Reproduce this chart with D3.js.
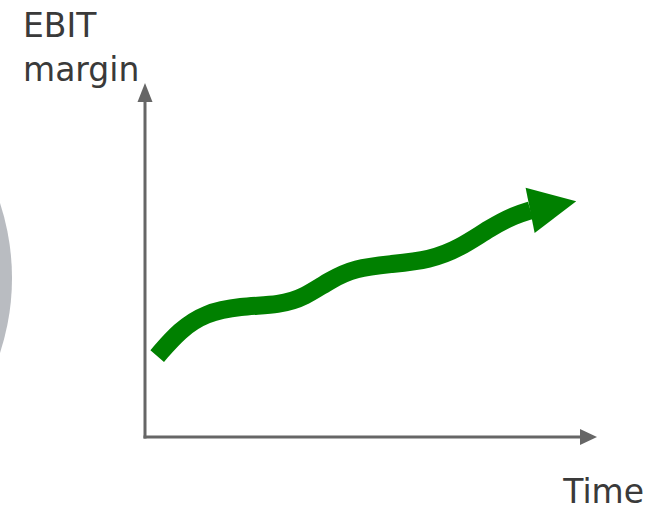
<!DOCTYPE html>
<html>
<head>
<meta charset="utf-8">
<script src="https://cdn.jsdelivr.net/npm/d3@7"></script>
<style>
  body { margin: 0; background: #fff; }
  text { font-family: "DejaVu Sans", Verdana, sans-serif; fill: #3a3a3a; }
</style>
</head>
<body>
<div id="chart"></div>
<script>
// conceptual trend, in axis units (0-100 on both)
const timeValues   = [2.7, 7.7, 13.3, 21.0, 29.9, 35.4, 40.9, 46.5, 54.2, 63.1, 69.7, 76.3, 81.9, 85.3];
const marginValues = [23.0, 30.4, 35.2, 37.2, 37.5, 39.8, 44.6, 48.0, 49.1, 50.3, 53.7, 59.4, 63.1, 64.4];
const arrowTip = [95.4, 67.0];
const yLabel = ["EBIT", "margin"];
const xLabel = "Time";

let width = 658,
    height = 511;

var svg = d3.select("#chart")
    .append("svg")
    .attr("width", width)
    .attr("height", height);

let x = d3.scaleLinear().domain([0, 100]).range([145, 597]);
let y = d3.scaleLinear().domain([0, 100]).range([437, 85]);

// grey shape peeking in from the left edge
svg.append("circle")
    .attr("cx", -228)
    .attr("cy", 278)
    .attr("r", 240)
    .style("fill", "#b9bcc1");

// axes
const axisColor = "#666666";
svg.append("line")
    .attr("x1", x(0)).attr("y1", y(0) + 1.5)
    .attr("x2", x(0)).attr("y2", y(100) + 14)
    .style("stroke", axisColor)
    .style("stroke-width", 3);
svg.append("path")
    .attr("d", d3.line()([[x(0) - 7.5, y(100) + 17], [x(0), y(100) - 2], [x(0) + 7.5, y(100) + 17]]) + "Z")
    .style("fill", axisColor);

svg.append("line")
    .attr("x1", x(0) - 1.5).attr("y1", y(0))
    .attr("x2", x(100) - 14).attr("y2", y(0))
    .style("stroke", axisColor)
    .style("stroke-width", 3);
svg.append("path")
    .attr("d", d3.line()([[x(100) - 17, y(0) - 8], [x(100), y(0)], [x(100) - 17, y(0) + 8]]) + "Z")
    .style("fill", axisColor);

// the trend line
const pts = timeValues.map((t, i) => [x(t), y(marginValues[i])]);

svg.append("path")
    .datum(pts)
    .attr("d", d3.line().curve(d3.curveBasis))
    .style("fill", "none")
    .style("stroke", "#008000")
    .style("stroke-width", 18)
    .style("stroke-linecap", "butt");

// arrow head, pointing from the last point to the tip
let last = pts[pts.length - 1],
    tip = [x(arrowTip[0]), y(arrowTip[1])];
let ang = Math.atan2(tip[1] - last[1], tip[0] - last[0]);
let headLen = 47, headHalf = 23;
let bx = tip[0] - headLen * Math.cos(ang),
    by = tip[1] - headLen * Math.sin(ang);
let head = [
    [bx + headHalf * Math.sin(ang), by - headHalf * Math.cos(ang)],
    tip,
    [bx - headHalf * Math.sin(ang), by + headHalf * Math.cos(ang)]
];
svg.append("path")
    .attr("d", d3.line()(head) + "Z")
    .style("fill", "#008000");

// labels
svg.selectAll(".ylab")
    .data(yLabel)
    .enter()
    .append("text")
    .attr("class", "ylab")
    .attr("x", 23)
    .attr("y", (d, i) => 37 + i * 44)
    .style("font-size", "33px")
    .text(d => d);

svg.append("text")
    .attr("x", 644)
    .attr("y", 503)
    .attr("text-anchor", "end")
    .style("font-size", "33px")
    .text(xLabel);
</script>
</body>
</html>
